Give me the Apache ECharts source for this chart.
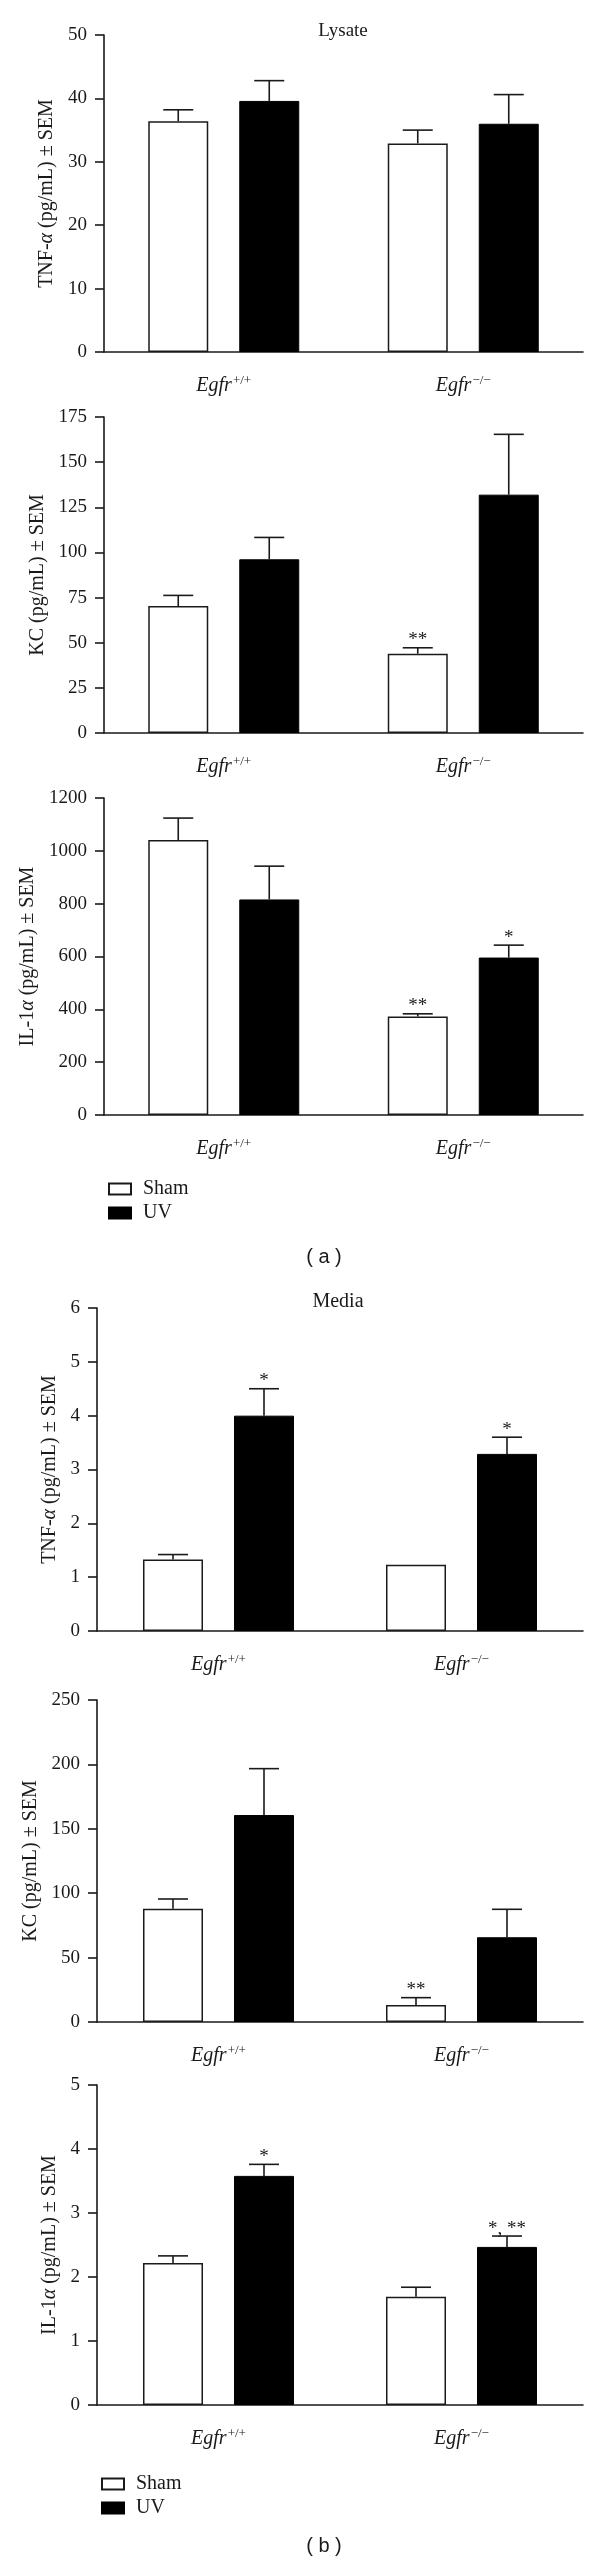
<!DOCTYPE html>
<html>
<head>
<meta charset="utf-8">
<script src="https://cdn.jsdelivr.net/npm/echarts@6/dist/echarts.min.js"></script>
<style>
html,body{margin:0;padding:0;background:#fff;}
#chart{width:600px;height:2568px;}
</style>
</head>
<body>
<div id="chart"></div>
<script>
// ---------- data ----------
const categories = ['Egfr+/+', 'Egfr\u2212/\u2212'];
const groupNames = ['Sham', 'UV'];

// (a) Lysate
const lysTnfSham = [36.4, 32.9];   const lysTnfShamSem = [1.8, 2.1];
const lysTnfUv   = [39.6, 36.0];   const lysTnfUvSem   = [3.2, 4.6];
const lysTnfShamMark = ['', ''];   const lysTnfUvMark = ['', ''];

const lysKcSham = [70.3, 43.9];    const lysKcShamSem = [5.9, 3.3];
const lysKcUv   = [96.2, 132.0];   const lysKcUvSem   = [12.1, 33.4];
const lysKcShamMark = ['', '**'];  const lysKcUvMark = ['', ''];

const lysIlSham = [1041, 373];     const lysIlShamSem = [83, 10];
const lysIlUv   = [816, 596];      const lysIlUvSem   = [126, 47];
const lysIlShamMark = ['', '**'];  const lysIlUvMark = ['', '*'];

// (b) Media
const medTnfSham = [1.33, 1.23];   const medTnfShamSem = [0.09, 0];
const medTnfUv   = [4.0, 3.29];    const medTnfUvSem   = [0.5, 0.31];
const medTnfShamMark = ['', ''];   const medTnfUvMark = ['*', '*'];

const medKcSham = [88.0, 13.2];    const medKcShamSem = [7.5, 5.7];
const medKcUv   = [160.7, 65.8];   const medKcUvSem   = [36.0, 21.7];
const medKcShamMark = ['', '**'];  const medKcUvMark = ['', ''];

const medIlSham = [2.22, 1.69];    const medIlShamSem = [0.11, 0.15];
const medIlUv   = [3.58, 2.47];    const medIlUvSem   = [0.18, 0.17];
const medIlShamMark = ['', ''];    const medIlUvMark = ['*', '*, **'];

// y axis ranges [max, interval]
const yRanges = [[50, 10], [175, 25], [1200, 200], [6, 1], [250, 50], [5, 1]];
const yNames = [
  'TNF-{it|\u03b1} (pg/mL) \u00b1 SEM',
  'KC (pg/mL) \u00b1 SEM',
  'IL-1{it|\u03b1} (pg/mL) \u00b1 SEM',
  'TNF-{it|\u03b1} (pg/mL) \u00b1 SEM',
  'KC (pg/mL) \u00b1 SEM',
  'IL-1{it|\u03b1} (pg/mL) \u00b1 SEM'
];

const panels = [
  [lysTnfSham, lysTnfShamSem, lysTnfShamMark, lysTnfUv, lysTnfUvSem, lysTnfUvMark],
  [lysKcSham, lysKcShamSem, lysKcShamMark, lysKcUv, lysKcUvSem, lysKcUvMark],
  [lysIlSham, lysIlShamSem, lysIlShamMark, lysIlUv, lysIlUvSem, lysIlUvMark],
  [medTnfSham, medTnfShamSem, medTnfShamMark, medTnfUv, medTnfUvSem, medTnfUvMark],
  [medKcSham, medKcShamSem, medKcShamMark, medKcUv, medKcUvSem, medKcUvMark],
  [medIlSham, medIlShamSem, medIlShamMark, medIlUv, medIlUvSem, medIlUvMark]
];

// ---------- layout ----------
const SERIF = "'Liberation Serif', 'DejaVu Serif', serif";
const INK = '#1a1a1a';
const FS = 19;
const grids = [
  {left: 104, top: 35,   width: 479, height: 317},
  {left: 104, top: 417,  width: 479, height: 316},
  {left: 104, top: 798,  width: 479, height: 317},
  {left: 97,  top: 1308, width: 486, height: 323},
  {left: 97,  top: 1700, width: 486, height: 322},
  {left: 97,  top: 2085, width: 486, height: 320}
];
const nameGaps = [44, 54, 62, 37, 55, 35];
const BAR_W = 60, BAR_GAP = 31;
const OFF = (BAR_W + BAR_GAP) / 2;

function catLabel(v) {
  const base = v.slice(0, 4), sup = v.slice(4);
  return '{i|' + base + '}{s|' + sup + '}';
}

const xAxes = [], yAxes = [], series = [];
panels.forEach((p, k) => {
  xAxes.push({
    type: 'category', gridIndex: k, data: categories,
    axisLine: {lineStyle: {color: INK, width: 1.6}},
    axisTick: {alignWithLabel: true, length: 10, lineStyle: {color: INK, width: 1.6}},
    axisLabel: {
      margin: 22, formatter: catLabel,
      rich: {
        i: {fontFamily: SERIF, fontStyle: 'italic', fontSize: 20, color: INK, lineHeight: 24},
        s: {fontFamily: SERIF, fontSize: 13, color: INK, verticalAlign: 'top', lineHeight: 24, padding: [0, 0, 9, 1]}
      }
    }
  });
  yAxes.push({
    type: 'value', gridIndex: k, min: 0, max: yRanges[k][0], interval: yRanges[k][1],
    splitLine: {show: false},
    axisLine: {show: true, lineStyle: {color: INK, width: 1.6}},
    axisTick: {show: true, length: 9, lineStyle: {color: INK, width: 1.6}},
    axisLabel: {margin: 17, fontFamily: SERIF, fontSize: FS, color: INK, formatter: v => String(v)},
    name: yNames[k], nameLocation: 'middle', nameGap: nameGaps[k],
    nameTextStyle: {fontFamily: SERIF, fontSize: 20, color: INK,
      rich: {it: {fontFamily: SERIF, fontStyle: 'italic', fontSize: 20, color: INK}}}
  });
  series.push({
    name: 'Sham', type: 'bar', xAxisIndex: k, yAxisIndex: k, data: p[0],
    barWidth: BAR_W, barGap: (BAR_GAP / BAR_W * 100) + '%',
    itemStyle: {color: '#ffffff', borderColor: INK, borderWidth: 1.5}
  });
  series.push({
    name: 'UV', type: 'bar', xAxisIndex: k, yAxisIndex: k, data: p[3],
    barWidth: BAR_W, barGap: (BAR_GAP / BAR_W * 100) + '%',
    itemStyle: {color: '#000000', borderColor: '#000000', borderWidth: 1}
  });
  [[p[0], p[1], p[2], -OFF], [p[3], p[4], p[5], OFF]].forEach(([m, s, mk, off], gi) => {
    series.push({
      name: 'err' + k + '_' + gi, type: 'custom', xAxisIndex: k, yAxisIndex: k, z: 5,
      data: m.map((v, i) => [i, v, s[i]]),
      renderItem: function (params, api) {
        const i = api.value(0);
        const b = api.coord([i, api.value(1)]);
        const t = api.coord([i, api.value(1) + api.value(2)]);
        const x = b[0] + off;
        const ch = [];
        if (api.value(2) > 0) {
          ch.push({type: 'line', shape: {x1: x, y1: b[1], x2: x, y2: t[1]}, style: {stroke: INK, lineWidth: 1.6}});
          ch.push({type: 'line', shape: {x1: x - 15, y1: t[1], x2: x + 15, y2: t[1]}, style: {stroke: INK, lineWidth: 1.6}});
        }
        const mark = mk[i];
        if (mark) {
          ch.push({type: 'text', x: x, y: t[1] + 2, style: {text: mark, textAlign: 'center', textVerticalAlign: 'bottom',
            font: '19px ' + SERIF, fill: INK}});
        }
        return {type: 'group', children: ch};
      }
    });
  });
});

const option = {
  animation: false,
  backgroundColor: '#fff',
  grid: grids,
  xAxis: xAxes,
  yAxis: yAxes,
  series: series,
  legend: [
    {data: groupNames, orient: 'vertical', left: 103, top: 1174, itemWidth: 22, itemHeight: 11, itemGap: 4,
     selectedMode: false, icon: 'rect',
     textStyle: {fontFamily: SERIF, fontSize: 20, color: INK, padding: [0, 0, 0, 7]}},
    {data: groupNames, orient: 'vertical', left: 96, top: 2469, itemWidth: 22, itemHeight: 11, itemGap: 4,
     selectedMode: false, icon: 'rect',
     textStyle: {fontFamily: SERIF, fontSize: 20, color: INK, padding: [0, 0, 0, 7]}}
  ],
  graphic: [
    {type: 'text', x: 343, y: 31, style: {text: 'Lysate', textAlign: 'center', textVerticalAlign: 'middle', font: '19px ' + SERIF, fill: INK}},
    {type: 'text', x: 338, y: 1302, style: {text: 'Media', textAlign: 'center', textVerticalAlign: 'middle', font: '20px ' + SERIF, fill: INK}},
    {type: 'text', x: 324, y: 1257, style: {text: '( a )', textAlign: 'center', textVerticalAlign: 'middle', font: "20px 'Liberation Sans', Arial, sans-serif", fill: INK}},
    {type: 'text', x: 324, y: 2546, style: {text: '( b )', textAlign: 'center', textVerticalAlign: 'middle', font: "20px 'Liberation Sans', Arial, sans-serif", fill: INK}}
  ]
};

const chart = echarts.init(document.getElementById('chart'), null, {renderer: 'canvas'});
chart.setOption(option);
</script>
</body>
</html>
